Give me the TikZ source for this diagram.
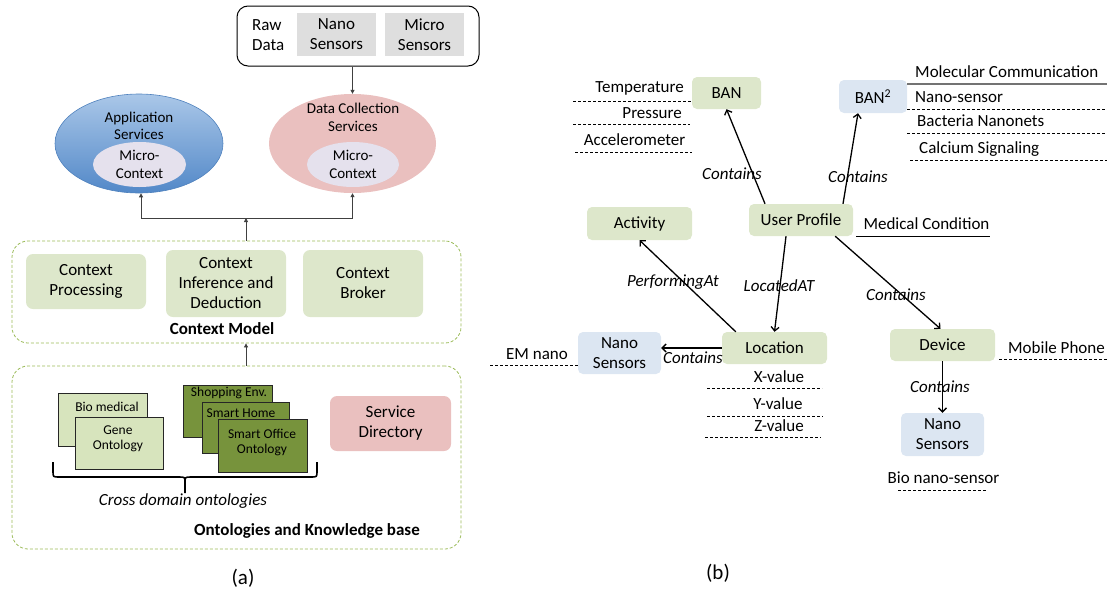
\documentclass[tikz,border=0pt]{standalone}
\usepackage{fontspec}
\setmainfont{Carlito}
\usetikzlibrary{arrows.meta,calc,shapes.geometric}
\definecolor{cgreen}{RGB}{221,231,203}
\definecolor{cblue}{RGB}{220,230,242}
\definecolor{cgray}{RGB}{222,222,222}
\definecolor{cpink}{RGB}{234,192,191}
\definecolor{clav}{RGB}{229,225,237}
\definecolor{olived}{HTML}{77933C}
\definecolor{olivel}{HTML}{D7E4BD}
\definecolor{olivedash}{HTML}{9BBB59}
\definecolor{appTop}{RGB}{170,199,232}
\definecolor{appBot}{RGB}{82,136,200}
\definecolor{appBorder}{RGB}{79,129,189}
\tikzset{
  ftA/.style={font=\fontsize{17}{20}\selectfont},
  ftS/.style={font=\fontsize{15}{17.5}\selectfont},
  ftO/.style={font=\fontsize{13.5}{15}\selectfont},
  ctxbox/.style={fill=cgreen, rounded corners=7, inner sep=0, align=center, ftA},
  graybox/.style={fill=cgray, inner sep=0, align=center, ftA},
  dashbox/.style={draw=olivedash, dashed, dash pattern=on 3pt off 2pt, line width=0.8, rounded corners=16, inner sep=0},
  ontol/.style={fill=olivel, draw=black!85, line width=0.8, inner sep=0},
  ontod/.style={fill=olived, draw=black!85, line width=0.8, inner sep=0},
  arrA/.style={draw=black!75, line width=0.8, -{Triangle[length=4pt,width=4pt]}},
  lineA/.style={draw=black!75, line width=0.8},
  bbox/.style={rounded corners=5, inner sep=0, align=center, ftA},
  txt/.style={inner sep=0, ftA},
  itxt/.style={inner sep=0, font=\fontsize{17}{20}\selectfont\itshape},
  arrB/.style={draw=black, line width=1.3, -{Straight Barb[length=4pt,width=8pt]}},
  uline/.style={draw=black, line width=0.7, dash pattern=on 3pt off 2pt},
}
\begin{document}
\begin{tikzpicture}[x=1pt,y=-1pt]
\useasboundingbox (0,0) rectangle (1107,592);
% ================= (a) =================
\node[draw=black, line width=1, rounded corners=11, minimum width=242, minimum height=60, inner sep=0] (raw) at (358,36) {};
\node[txt, align=left, anchor=west] (rawt) at (252,35) {Raw\\Data};
\node[graybox, minimum width=79, minimum height=43] (nanoS) at (336.5,34.5) {Nano\\Sensors};
\node[graybox, minimum width=79, minimum height=43] (microS) at (424.5,34.5) {Micro\\Sensors};

\node[ellipse, draw=appBorder, line width=0.6, top color=appTop, bottom color=appBot, minimum width=168, minimum height=99, inner sep=0] (app) at (139,143.5) {};
\node[inner sep=0, ftS, align=center] (appt) at (139,126) {Application\\Services};
\node[ellipse, fill=clav, minimum width=93, minimum height=45, inner sep=0, ftS, align=center] (appin) at (139.5,164.5) {Micro-\\Context};

\node[ellipse, fill=cpink, minimum width=167, minimum height=99, inner sep=0] (dc) at (352.5,143.5) {};
\node[inner sep=0, ftS, align=center] (dct) at (353,117.5) {Data Collection\\Services};
\node[ellipse, fill=clav, minimum width=92, minimum height=45, inner sep=0, ftS, align=center] (dcin) at (353,164.5) {Micro-\\Context};

\draw[arrA] (raw.south -| dc.north) -- (dc.north);

\coordinate (j) at (246,218);
\coordinate (jl) at (141,218);
\coordinate (jr) at (352.5,218);
\draw[lineA] (jl) -- (jr);
\draw[arrA] (jl) -- (jl |- app.south);
\draw[arrA] (jr) -- (dc.south);

\node[dashbox, minimum width=449, minimum height=102] (cm) at (236.5,292) {};
\node[ctxbox, minimum width=120, minimum height=55] (cp) at (86,281.5) {Context\\Processing};
\node[ctxbox, minimum width=120, minimum height=67] (ci) at (226,283.5) {Context\\Inference and\\Deduction};
\node[ctxbox, minimum width=120, minimum height=67] (cb) at (363,283.5) {Context\\Broker};
\node[inner sep=0, font=\fontsize{17}{20}\selectfont\bfseries] (cmt) at (222,329) {Context Model};
\draw[arrA] (cm.north -| j) -- (j);

\node[dashbox, minimum width=449, minimum height=183] (ok) at (236.5,457.5) {};
\draw[arrA] (ok.north -| j) -- (cm.south -| j);

\node[ontol, minimum width=89, minimum height=53] (bio) at (102.5,419.5) {};
\node[inner sep=0, ftO] (biot) at (107,407) {Bio medical};
\node[ontol, minimum width=88, minimum height=52] (gene) at (119,443) {};
\node[inner sep=0, ftO, align=center] (genet) at (118,438.5) {Gene\\Ontology};

\node[ontod, minimum width=89, minimum height=52] (shop) at (227.5,411) {};
\node[inner sep=0, ftO] (shopt) at (229,393) {Shopping Env.};
\node[ontod, minimum width=87, minimum height=51] (home) at (245.5,427.5) {};
\node[inner sep=0, ftO] (homet) at (241,413) {Smart Home};
\node[ontod, minimum width=89, minimum height=53] (office) at (262.5,445.5) {};
\node[inner sep=0, ftO, align=center] (officet) at (262,442.5) {Smart Office\\Ontology};

\draw[line width=1.6, black] (53,462) -- (53,471) .. controls (53,477) .. (59,477) -- (179,477) .. controls (185,477) .. (185,483) -- (185,493)
  (185,493) -- (185,483) .. controls (185,477) .. (191,477) -- (311,477) .. controls (317,477) .. (317,471) -- (317,462);
\node[itxt] (cdo) at (183,501) {Cross domain ontologies};

\node[fill=cpink, rounded corners=7, inner sep=0, align=center, ftA, minimum width=121, minimum height=55] (sd) at (390.5,423.5) {Service\\Directory};
\node[inner sep=0, font=\fontsize{17}{20}\selectfont\bfseries] (okt) at (307,531) {Ontologies and Knowledge base};

\node[inner sep=0, font=\fontsize{21}{24}\selectfont] (la) at (243,578) {(a)};

% ================= (b) =================
\node[bbox, fill=cgreen, minimum width=69, minimum height=32] (ban) at (726.5,93) {BAN};
\node[txt, anchor=east] (temp) at (684,88) {Temperature};
\draw[uline] (573,101) -- (692,101);
\node[txt, anchor=east] (pres) at (682,113) {Pressure};
\draw[uline] (573,124) -- (690,124);
\node[txt] (acc) at (634.5,140) {Accelerometer};
\draw[uline] (575,152) -- (692,152);

\node[bbox, fill=cblue, minimum width=68, minimum height=33] (ban2) at (873,96.5) {BAN\textsuperscript{2}};
\node[txt, anchor=west] (mol) at (915,72) {Molecular Communication};
\draw[draw=black!55, line width=1.6] (907,84) -- (1107,84);
\node[txt, anchor=west] (nsen) at (915,97) {Nano-sensor};
\draw[uline] (907,109) -- (1107,109);
\node[txt, anchor=west] (bact) at (917,121) {Bacteria Nanonets};
\draw[uline] (907,133) -- (1107,133);
\node[txt, anchor=west] (calc) at (919,149) {Calcium Signaling};
\draw[uline] (910,160) -- (1107,160);

\node[bbox, fill=cgreen, minimum width=104, minimum height=32] (up) at (801,220) {User Profile};
\node[txt] (med) at (926.5,224) {Medical Condition};
\draw[draw=black, line width=0.9] (856,236) -- (990,236);

\node[bbox, fill=cgreen, minimum width=105, minimum height=33] (act) at (639.5,223.5) {Activity};

\draw[arrB] ($(up.north)+(-36,0)$) -- (ban.south);
\node[itxt] (c1) at (732,174) {Contains};
\draw[arrB] ($(up.north)+(42,0)$) -- ($(ban2.south)+(-15,0)$);
\node[itxt] (c2) at (858,177) {Contains};

\node[bbox, fill=cgreen, minimum width=105, minimum height=32] (loc) at (774.5,348) {Location};
\draw[arrB] ($(up.south)+(-15,0)$) -- (loc.north);
\node[itxt] (lat) at (779,286) {LocatedAT};
\draw[arrB] ($(loc.north west)+(14,0)$) -- (act.south);
\node[itxt] (pat) at (673,282) {PerformingAt};

\node[bbox, fill=cgreen, minimum width=105, minimum height=32] (dev) at (942.5,345) {Device};
\draw[arrB] ($(up.south east)+(-18,0)$) -- ($(dev.north)+(-2,0)$);
\node[itxt] (c3) at (896,295) {Contains};

\node[bbox, fill=cblue, minimum width=83, minimum height=43] (nano2) at (942.5,434.5) {Nano\\Sensors};
\draw[arrB] (dev.south) -- (nano2.north);
\node[itxt] (c4) at (940,387) {Contains};
\node[txt] (mob) at (1056.5,348) {Mobile Phone};
\draw[uline] (999,359) -- (1107,359);
\node[txt] (bns) at (943.5,478) {Bio nano-sensor};
\draw[uline] (898,490) -- (986,490);

\node[bbox, fill=cblue, minimum width=83, minimum height=42] (nano1) at (619.5,353) {Nano\\Sensors};
\draw[arrB] (loc.west) -- (nano1.east |- loc.west);
\node[itxt] (c5) at (693,358) {Contains};
\node[txt] (em) at (537,354) {EM nano};
\draw[uline] (490,365) -- (578,365);

\node[txt] (xv) at (779,377) {X-value};
\draw[uline] (707,388) -- (822,388);
\node[txt] (yv) at (778,404) {Y-value};
\draw[uline] (707,416) -- (823,416);
\node[txt] (zv) at (779,426) {Z-value};
\draw[uline] (705,437) -- (821,437);

\node[inner sep=0, font=\fontsize{21}{24}\selectfont] (lb) at (718,573) {(b)};
\end{tikzpicture}
\end{document}
